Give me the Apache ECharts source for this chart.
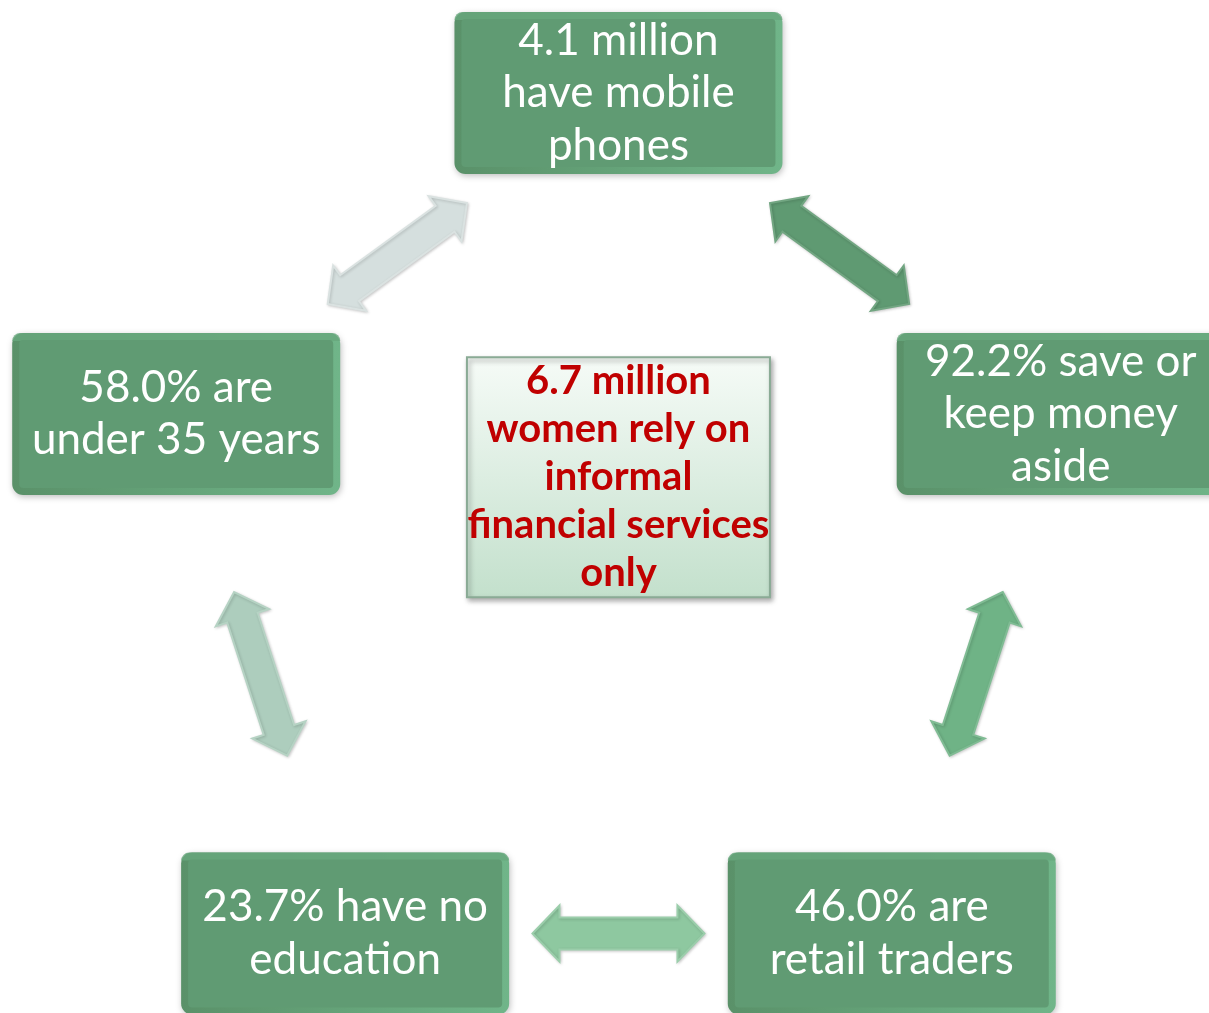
<!DOCTYPE html>
<html>
<head>
<meta charset="utf-8">
<script src="https://cdn.jsdelivr.net/npm/echarts@6/dist/echarts.min.js"></script>
<style>
  html, body { margin: 0; padding: 0; background: #ffffff; }
  #main { width: 1209px; height: 1013px; }
</style>
</head>
<body>
<div id="main"></div>
<script>
// Facts shown in the five boxes on the ring, clockwise from the top
const factLabels = [
  '4.1 million\nhave mobile\nphones',
  '92.2% save or\nkeep money\naside',
  '46.0% are\nretail traders',
  '23.7% have no\neducation',
  '58.0% are\nunder 35 years'
];

// Central statement
const hubLabel = '6.7 million\nwomen rely on\ninformal\nfinancial services\nonly';

// Double arrows between neighbouring boxes (indices into factLabels)
const links = [[0, 1], [1, 2], [2, 3], [3, 4], [4, 0]];

// Arrow fill colours, one per link
const arrowColors = ['#5f9a72', '#6fb386', '#8ec8a0', '#adcdbd', '#d5dfde'];

// Boxes sit on a unit ring, the first one at the top, going clockwise
function ringPos(i, n) {
  const a = (90 - 360 / n * i) * Math.PI / 180;
  return [Math.cos(a), Math.sin(a)];
}
const nodePos = factLabels.map((_, i) => ringPos(i, factLabels.length));
const hubPos = [0, 0.173];

const chart = echarts.init(document.getElementById('main'), null, { renderer: 'canvas' });

const BOX_W = 328, BOX_H = 162;
const ARROW_LEN = 172, HEAD_LEN = 27, HEAD_HALF = 28, SHAFT_HALF = 16;

function renderBox(params, api) {
  const c = api.coord([api.value(0), api.value(1)]);
  const x = c[0] - BOX_W / 2, y = c[1] - BOX_H / 2;
  return {
    type: 'group',
    children: [
      {
        type: 'rect',
        shape: { x: x, y: y, width: BOX_W, height: BOX_H, r: 11 },
        style: {
          fill: new echarts.graphic.LinearGradient(0, 0, 1, 0, [
            { offset: 0, color: '#5a9169' },
            { offset: 1, color: '#70b589' }
          ]),
          shadowBlur: 6,
          shadowColor: 'rgba(0,0,0,0.25)',
          shadowOffsetX: 1,
          shadowOffsetY: 2
        }
      },
      {
        type: 'rect',
        shape: { x: x, y: y, width: BOX_W, height: 8, r: [11, 11, 0, 0] },
        style: { fill: '#68a87d', opacity: 0.8 }
      },
      {
        type: 'rect',
        shape: { x: x + 7, y: y + 7, width: BOX_W - 14, height: BOX_H - 14, r: 4 },
        style: { fill: '#609b73' }
      },
      {
        type: 'text',
        style: {
          text: factLabels[params.dataIndex],
          x: c[0],
          y: c[1],
          align: 'center',
          verticalAlign: 'middle',
          fill: '#ffffff',
          fontFamily: 'Lato',
          fontSize: 44,
          lineHeight: 52.5
        }
      }
    ]
  };
}

function renderArrow(params, api) {
  const a = api.coord([api.value(0), api.value(1)]);
  const b = api.coord([api.value(2), api.value(3)]);
  const mx = (a[0] + b[0]) / 2, my = (a[1] + b[1]) / 2;
  let dx = b[0] - a[0], dy = b[1] - a[1];
  const d = Math.sqrt(dx * dx + dy * dy);
  dx /= d; dy /= d;
  const nx = -dy, ny = dx;
  const p1 = [mx - dx * ARROW_LEN / 2, my - dy * ARROW_LEN / 2];
  const p2 = [mx + dx * ARROW_LEN / 2, my + dy * ARROW_LEN / 2];
  const at = (p, s, t) => [p[0] + dx * s + nx * t, p[1] + dy * s + ny * t];
  const pts = [
    p1,
    at(p1, HEAD_LEN, HEAD_HALF),
    at(p1, HEAD_LEN, SHAFT_HALF),
    at(p2, -HEAD_LEN, SHAFT_HALF),
    at(p2, -HEAD_LEN, HEAD_HALF),
    p2,
    at(p2, -HEAD_LEN, -HEAD_HALF),
    at(p2, -HEAD_LEN, -SHAFT_HALF),
    at(p1, HEAD_LEN, -SHAFT_HALF),
    at(p1, HEAD_LEN, -HEAD_HALF)
  ];
  const color = arrowColors[params.dataIndex];
  return {
    type: 'polygon',
    shape: { points: pts },
    style: {
      fill: color,
      stroke: echarts.color.lift(color, 0.12),
      lineWidth: 2,
      lineJoin: 'miter',
      shadowBlur: 3,
      shadowColor: 'rgba(0,0,0,0.18)',
      shadowOffsetX: 1,
      shadowOffsetY: 1
    }
  };
}

function renderHub(params, api) {
  const c = api.coord([api.value(0), api.value(1)]);
  const w = 303, h = 240;
  return {
    type: 'group',
    children: [
      {
        type: 'rect',
        shape: { x: c[0] - w / 2, y: c[1] - h / 2, width: w, height: h },
        style: {
          fill: new echarts.graphic.LinearGradient(0, 0, 0, 1, [
            { offset: 0, color: '#f6fbf7' },
            { offset: 1, color: '#c3e0cc' }
          ]),
          stroke: '#8aab95',
          lineWidth: 2,
          shadowBlur: 5,
          shadowColor: 'rgba(0,0,0,0.35)',
          shadowOffsetX: 2,
          shadowOffsetY: 3
        }
      },
      {
        type: 'text',
        style: {
          text: hubLabel,
          x: c[0],
          y: c[1],
          align: 'center',
          verticalAlign: 'middle',
          fill: '#c00000',
          fontFamily: 'Lato',
          fontWeight: 'bold',
          fontSize: 40,
          lineHeight: 48
        }
      }
    ]
  };
}

chart.setOption({
  animation: false,
  backgroundColor: '#ffffff',
  grid: { left: 0, right: 0, top: 0, bottom: 0 },
  xAxis: { type: 'value', min: -1.33, max: 1.27, show: false },
  yAxis: { type: 'value', min: -0.98, max: 1.2, show: false },
  series: [
    {
      type: 'custom',
      name: 'links',
      renderItem: renderArrow,
      data: links.map(l => nodePos[l[0]].concat(nodePos[l[1]]))
    },
    {
      type: 'custom',
      name: 'facts',
      renderItem: renderBox,
      data: nodePos
    },
    {
      type: 'custom',
      name: 'hub',
      renderItem: renderHub,
      data: [hubPos]
    }
  ]
});
</script>
</body>
</html>
